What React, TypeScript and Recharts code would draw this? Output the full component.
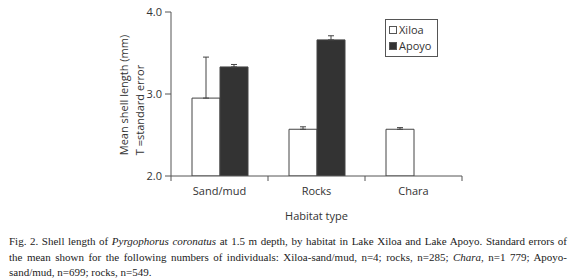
import React from 'react';
import { BarChart, Bar, XAxis, YAxis, ErrorBar } from 'recharts';

// Values (mm)
const categories = ['Sand/mud', 'Rocks', 'Chara'];
const xiloaMean = [2.95, 2.57, 2.57];
const xiloaSe = [0.5, 0.03, 0.02];
const apoyoMean: (number | null)[] = [3.33, 3.66, null];
const apoyoSe: (number | null)[] = [0.03, 0.05, null];
const yTicks = [2, 3, 4];

const data = categories.map((name, i) => ({
  name,
  xiloa: xiloaMean[i],
  xiloaErr: [0, xiloaSe[i]],
  apoyo: apoyoMean[i],
  apoyoErr: apoyoSe[i] == null ? undefined : [0, apoyoSe[i]],
}));

const AXIS = '#555';
const TEXT = '#333';
const SANS = '"Open Sans", "Noto Sans", sans-serif';
const SERIF = '"Liberation Serif", "DejaVu Serif", serif';

// tick label at the category centre, tick marks at the category boundaries
const CategoryTick = (props: any) => {
  const { x, y, payload, index } = props;
  const half = payload && payload.offset ? payload.offset : 48.5;
  const axisY = y - 13;
  return (
    <g>
      {index === 0 && <line x1={x - half} x2={x - half} y1={axisY} y2={axisY + 5} stroke={AXIS} />}
      <line x1={x + half} x2={x + half} y1={axisY} y2={axisY + 5} stroke={AXIS} />
      <text x={x} y={axisY + 19} textAnchor="middle" fontSize={11} fill={TEXT} fontFamily={SANS}>
        {payload.value}
      </text>
    </g>
  );
};

const LegendBox = () => (
  <div
    style={{
      position: 'absolute',
      left: 385,
      top: 19,
      width: 48,
      padding: '2px 0 2px 3px',
      border: `1px solid ${AXIS}`,
      fontFamily: SANS,
      fontSize: 11,
      color: TEXT,
      lineHeight: '16px',
      background: '#fff',
    }}
  >
    {[
      { label: 'Xiloa', fill: '#fff' },
      { label: 'Apoyo', fill: '#333' },
    ].map((item) => (
      <div key={item.label} style={{ display: 'flex', alignItems: 'center' }}>
        <span
          style={{
            display: 'inline-block',
            width: 6,
            height: 6,
            border: `1px solid ${AXIS}`,
            background: item.fill,
            marginRight: 2,
          }}
        />
        {item.label}
      </div>
    ))}
  </div>
);

const YLabel = () => (
  <g fontFamily={SANS} fontSize={11} fill={TEXT}>
    <text x={123} y={95} textAnchor="middle" dominantBaseline="central" transform="rotate(-90 123 95)">
      Mean shell length (mm)
    </text>
    <text x={139} y={110} textAnchor="middle" dominantBaseline="central" transform="rotate(-90 139 110)">
      T =standard error
    </text>
  </g>
);

export default function App() {
  return (
    <div style={{ position: 'absolute', left: 0, top: 0, width: 580, height: 280, background: '#fff' }}>
      <BarChart
        width={580}
        height={225}
        data={data}
        margin={{ top: 12, right: 118, left: 0, bottom: 0 }}
        barSize={28}
        barGap={0}
      >
        <XAxis
          dataKey="name"
          height={49}
          stroke={AXIS}
          tickLine={false}
          tickSize={5}
          tickMargin={8}
          tick={<CategoryTick />}
          interval={0}
          label={{
            value: 'Habitat type',
            position: 'insideBottom',
            offset: 5,
            fontSize: 11,
            fill: TEXT,
            fontFamily: SANS,
          }}
        />
        <YAxis
          width={171}
          domain={[2, 4]}
          ticks={yTicks}
          allowDataOverflow
          stroke={AXIS}
          tickSize={6}
          tickMargin={3}
          tickFormatter={(v) => Number(v).toFixed(1)}
          tick={{ fontSize: 11, fill: TEXT, fontFamily: SANS }}
          label={{ content: () => <YLabel /> }}
        />
        <Bar dataKey="xiloa" name="Xiloa" fill="#fff" stroke="#444" strokeWidth={1} isAnimationActive={false}>
          <ErrorBar dataKey="xiloaErr" width={3} stroke="#444" strokeWidth={1} direction="y" />
        </Bar>
        <Bar dataKey="apoyo" name="Apoyo" fill="#333" stroke="#444" strokeWidth={1} isAnimationActive={false}>
          <ErrorBar dataKey="apoyoErr" width={3} stroke="#444" strokeWidth={1} direction="y" />
        </Bar>
      </BarChart>
      <LegendBox />
      <div
        style={{
          position: 'absolute',
          left: 9,
          top: 234,
          width: 558,
          fontFamily: SERIF,
          fontSize: 11,
          lineHeight: '15.5px',
          color: '#222',
        }}
      >
        <div style={{ textAlign: 'justify', textAlignLast: 'justify' }}>
          Fig. 2. Shell length of <i>Pyrgophorus coronatus</i> at 1.5 m depth, by habitat in Lake Xiloa and Lake
          Apoyo. Standard errors of
        </div>
        <div style={{ textAlign: 'justify', textAlignLast: 'justify' }}>
          the mean shown for the following numbers of individuals: Xiloa-sand/mud, n=4; rocks, n=285;{' '}
          <i>Chara</i>, n=1 779; Apoyo-
        </div>
        <div>sand/mud, n=699; rocks, n=549.</div>
      </div>
    </div>
  );
}
